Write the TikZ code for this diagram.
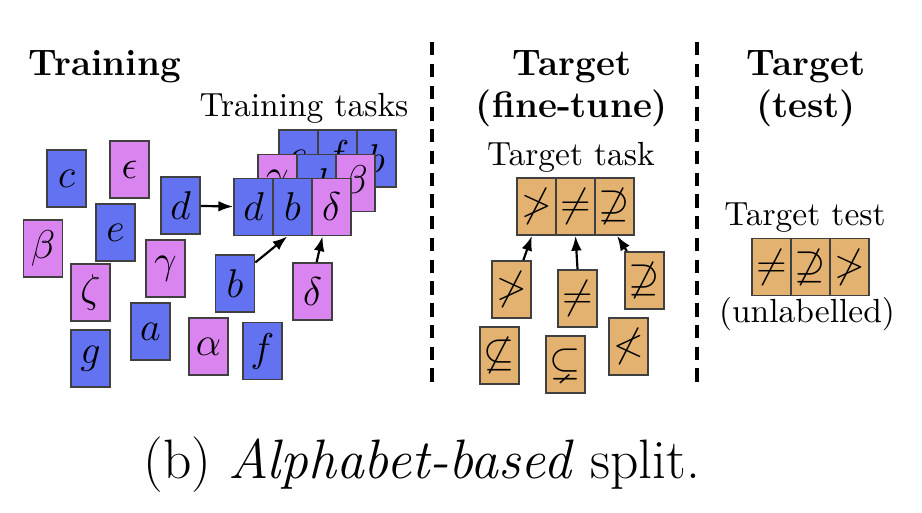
\documentclass[tikz,border=0pt]{standalone}
\usepackage{fontspec}
\usepackage{amssymb}
\usetikzlibrary{arrows.meta}
\definecolor{cardblue}{RGB}{98,114,240}
\definecolor{cardpink}{RGB}{218,132,240}
\definecolor{cardtan}{RGB}{228,178,112}
\tikzset{
  card/.style={draw=black!75, line width=0.5pt, minimum width=0.41cm,
    minimum height=0.6cm, inner sep=0pt, font=\large},
  lat/.style={card, fill=cardblue},
  grk/.style={card, fill=cardpink},
  sym/.style={card, fill=cardtan},
  head/.style={font=\fontsize{11}{13}\selectfont\bfseries, anchor=base},
  lbl/.style={anchor=base},
  sep/.style={line width=1pt, dash pattern=on 4pt off 2.5pt}
}
\begin{document}
\begin{tikzpicture}[x=0.0105cm, y=-0.0105cm]
      \useasboundingbox (0,0) rectangle (922,512);
      % headings
      \path
        (105,75) node[head] (h0){Training}
        (572,75) node[head] (h1){Target}
        (572,117) node[head] (h2){(fine-tune)}
        (806,75) node[head] (h3){Target}
        (806,117) node[head] (h4){(test)}
        (304,116) node[lbl] (l0){Training tasks}
        (571,165) node[lbl] (l1){Target task}
        (805,225) node[lbl] (l2){Target test}
        (807,322) node[lbl] (l3){(unlabelled)};
      % loose characters
      \path
        (66.5,178.5) node[lat] (c){$c$}
        (129.5,169.5) node[grk] (eps){$\epsilon$}
        (43,248.5) node[grk] (beta){$\beta$}
        (115.5,232.5) node[lat] (e){$e$}
        (180.5,205.5) node[lat] (d){$d$}
        (90.5,292.5) node[grk] (zeta){$\zeta$}
        (165.5,268.5) node[grk] (gamma){$\gamma$}
        (235,283.5) node[lat] (b){$b$}
        (312.5,291.5) node[grk] (delta){$\delta$}
        (90.5,358.5) node[lat] (g){$g$}
        (150.5,331.5) node[lat] (a){$a$}
        (208.5,346.5) node[grk] (alpha){$\alpha$}
        (262.5,351) node[lat] (f){$f$};
      % training tasks
      \path
        (298.5,158.5) node[lat] (t20){$e$}
        (337.5,158.5) node[lat] (t21){$f$}
        (376.5,158.5) node[lat] (t22){$b$}
        (277.5,183) node[grk] (t10){$\gamma$}
        (316.5,183) node[lat] (t11){$d$}
        (355.5,183) node[grk] (t12){$\beta$}
        (253.5,207) node[lat] (t00){$d$}
        (292.5,207) node[lat] (t01){$b$}
        (331.5,207) node[grk] (t02){$\delta$};
      % target task and its characters
      \path
        (536.5,206.5) node[sym] (s0){$\not>$}
        (575.5,206.5) node[sym] (s1){$\neq$}
        (614.5,206.5) node[sym] (s2){$\not\supseteq$}
        (511.5,289.5) node[sym] (ngt){$\not>$}
        (577.5,298.5) node[sym] (ne){$\neq$}
        (644.5,280.5) node[sym] (nsup){$\not\supseteq$}
        (499.5,355.5) node[sym] (nsub){$\not\subseteq$}
        (565.5,364.5) node[sym] (subne){$\subsetneq$}
        (628.5,346.5) node[sym] (nlt){$\not<$};
      % target test
      \path
        (771.5,267) node[sym] (u0){$\neq$}
        (810.5,267) node[sym] (u1){$\not\supseteq$}
        (849.5,267) node[sym] (u2){$\not>$};
      \begin{scope}[->, >={Latex[length=4.4pt,width=3.2pt]}, line width=0.65pt]
        \draw (d) to (t00);
        \draw (b.46) to (t01.-100);
        \draw (delta.82) to (t02.-107);
        \draw (ngt.68) to (s0.-99);
        \draw (ne.north) to (s1.south);
        \draw (nsup.121) to (s2.-85);
      \end{scope}
      % separators
      \coordinate (v0) at (432,42);
      \coordinate (v1) at (432,388);
      \coordinate (w0) at (697,42);
      \coordinate (w1) at (697,388);
      \draw[sep] (v0) -- (v1);
      \draw[sep] (w0) -- (w1);
      \node[anchor=base, font=\fontsize{16.6}{20}\selectfont] (cap) at (422,478)
        {(b) \textit{Alphabet-based} split.};
    \end{tikzpicture}
\end{document}
